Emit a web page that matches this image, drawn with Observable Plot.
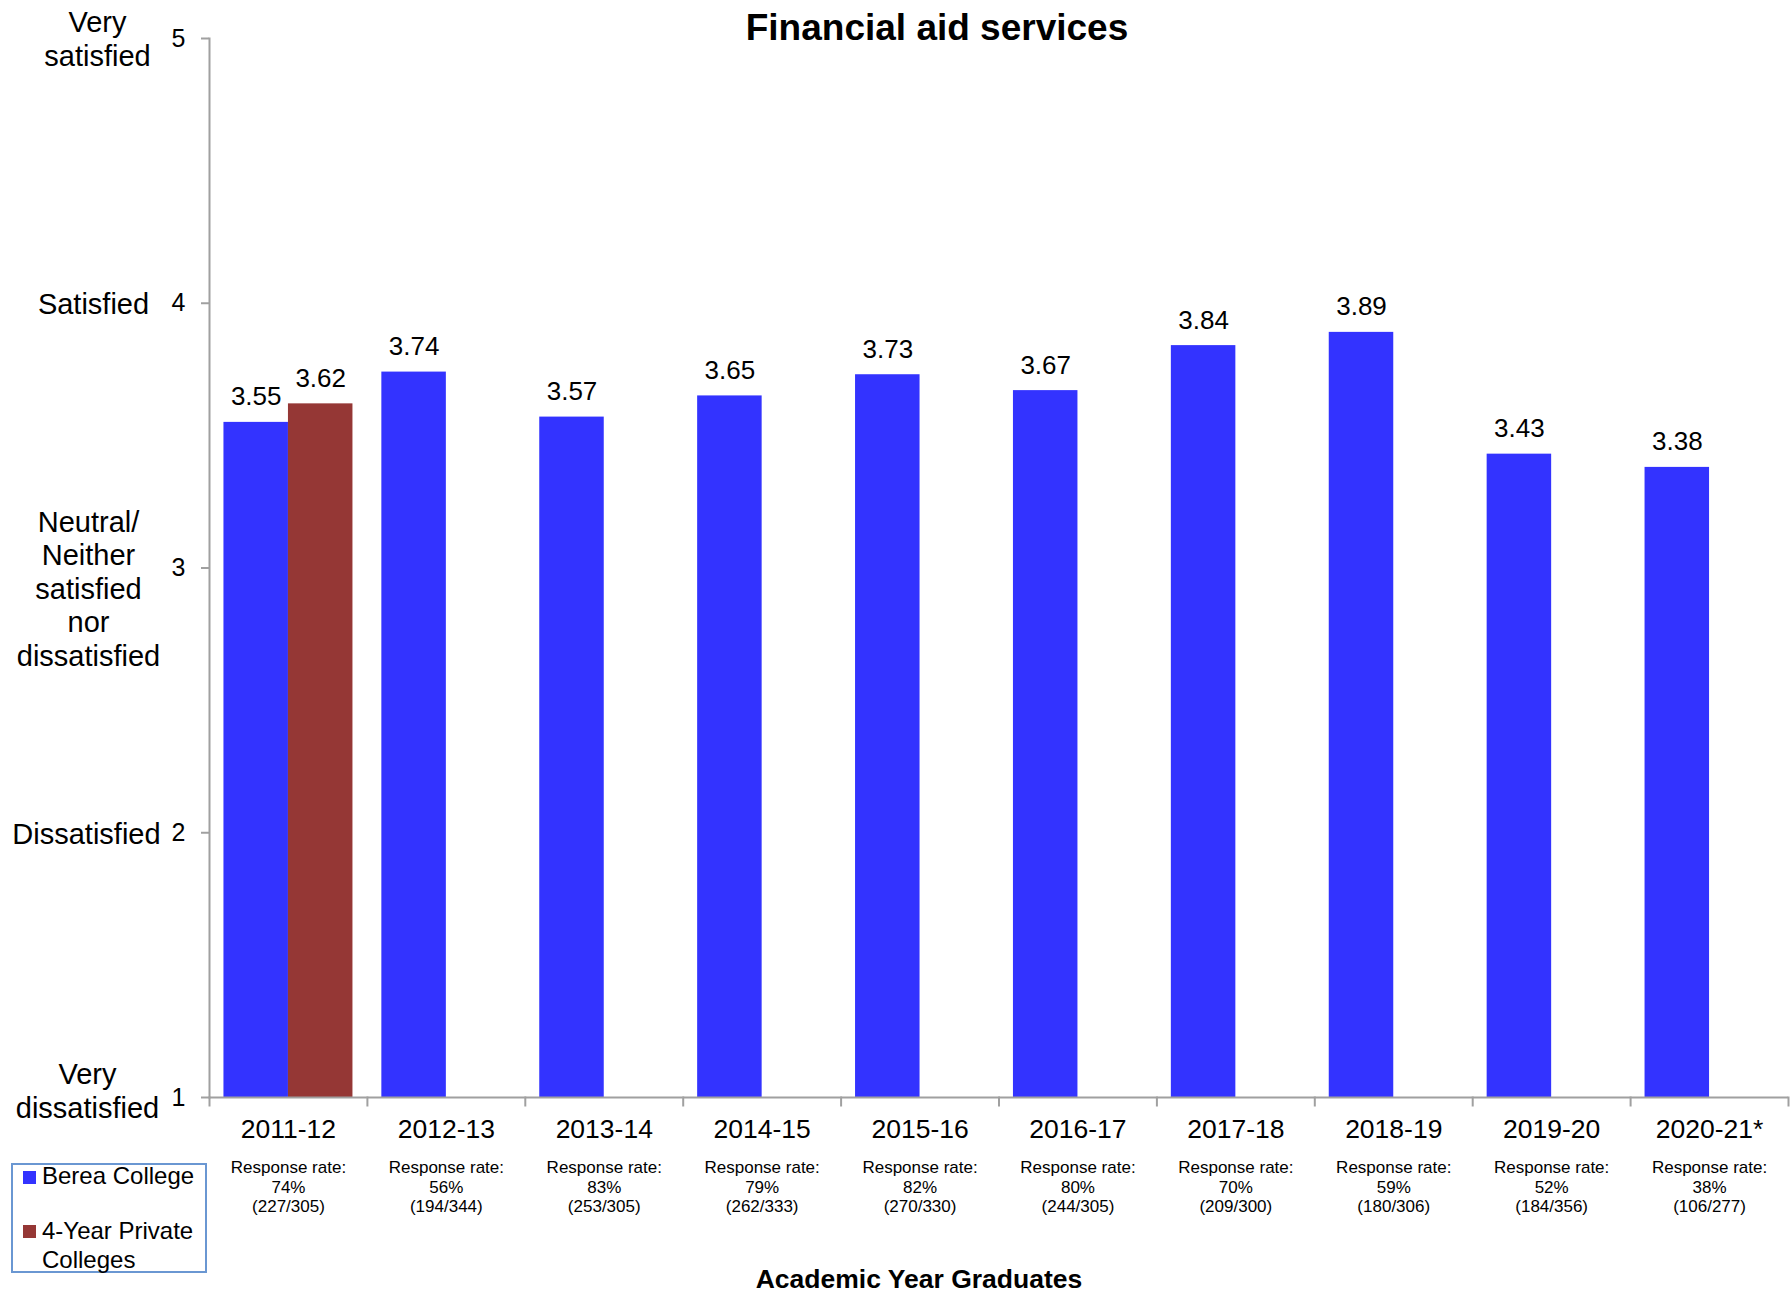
<!DOCTYPE html>
<html><head><meta charset="utf-8">
<script src="https://cdn.jsdelivr.net/npm/d3@7"></script>
<script src="https://cdn.jsdelivr.net/npm/@observablehq/plot@0.6"></script>
<style>
body{margin:0;background:#fff;font-family:"Liberation Sans",Arial,sans-serif;}
#wrap{position:relative;width:1790px;height:1296px;overflow:hidden;background:#fff}
#chart{position:absolute;left:0;top:0}
.abs{position:absolute;white-space:nowrap;color:#000}
#legend{position:absolute;left:11px;top:1163px;width:196px;height:110px;box-sizing:border-box;border:2px solid #6a97d2;background:#fff}
.sw{position:absolute;width:13px;height:13px}
.lt{position:absolute;font-size:24px;line-height:29px;width:163px;white-space:normal;color:#000}
</style></head><body>
<div id="wrap">
  <div id="chart"></div>
  <div class="abs" style="left:937px;top:9px;transform:translateX(-50%);font-size:37px;font-weight:bold;line-height:37px">Financial aid services</div>
  <div class="abs" style="left:919px;top:1268px;transform:translateX(-50%);font-size:26.5px;font-weight:bold;line-height:23px">Academic Year Graduates</div>
  <div id="legend"></div>
</div>
<script>
// ---- data ----
const years = ["2011-12","2012-13","2013-14","2014-15","2015-16","2016-17","2017-18","2018-19","2019-20","2020-21*"];
const bereaScores = [3.55, 3.74, 3.57, 3.65, 3.73, 3.67, 3.84, 3.89, 3.43, 3.38];
const privateScores = [3.62, null, null, null, null, null, null, null, null, null];
const responseRates = [74, 56, 83, 79, 82, 80, 70, 59, 52, 38];
const respondents = [227, 194, 253, 262, 270, 244, 209, 180, 184, 106];
const graduates = [305, 344, 305, 333, 330, 305, 300, 306, 356, 277];
const seriesNames = ["Berea College", "4-Year Private Colleges"];
const seriesColors = ["#3333FF", "#953735"];
const scaleTicks = [1, 2, 3, 4, 5];
const scaleLabels = ["Very\ndissatisfied", "Dissatisfied", "Neutral/\nNeither\nsatisfied\nnor\ndissatisfied", "Satisfied", "Very\nsatisfied"];

// ---- tables built from the arrays ----
const bars = [];
years.forEach((y, i) => {
  bars.push({year: y, series: seriesNames[0], value: bereaScores[i]});
  if (privateScores[i] != null) bars.push({year: y, series: seriesNames[1], value: privateScores[i]});
});
const rates = years.map((y, i) => ({year: y, text: `Response rate:\n${responseRates[i]}%\n(${respondents[i]}/${graduates[i]})`}));
const labelText = new Map(scaleTicks.map((t, i) => [t, scaleLabels[i]]));
const yMin = scaleTicks[0], yMax = scaleTicks[scaleTicks.length - 1];

const W = 1790, H = 1296, mT = 38, mB = 199, mL = 209, mR = 2;
const plotH = H - mT - mB;
const gray = "#a0a0a0";
const labelNudge = {1: -7, 3: 20};
const labelShift = {1: 3, 2: 2, 3: 4, 4: 9, 5: 13};

const labelAxes = scaleTicks.map(t => Plot.axisY([t], {
  anchor: "left", tickSize: 0, tickPadding: 125, textAnchor: "middle", label: null,
  tickFormat: d => labelText.get(d), fontSize: 29, lineHeight: 1.16,
  dy: labelNudge[t] || 0, dx: labelShift[t] || 0
}));

const chart = Plot.plot({
  width: W, height: H,
  marginTop: mT, marginBottom: mB, marginLeft: mL, marginRight: mR,
  style: {fontFamily: '"Liberation Sans", Arial, sans-serif', color: "#000", background: "#fff"},
  fx: {domain: years, padding: 0, round: false, label: null, axis: null},
  x: {domain: seriesNames, paddingInner: 0, paddingOuter: 0.224, round: false, axis: null},
  y: {domain: [yMin, yMax], axis: null},
  color: {domain: seriesNames, range: seriesColors},
  marks: [
    Plot.barY(bars, {fx: "year", x: "series", y1: () => yMin, y2: "value", fill: "series"}),
    Plot.text(bars, {fx: "year", x: "series", y: "value", text: d => d.value.toFixed(2),
      lineAnchor: "bottom", dy: -17, fontSize: 26, fill: "#000"}),
    Plot.ruleY([yMin], {stroke: gray, strokeWidth: 2}),
    Plot.frame({anchor: "left", stroke: gray, strokeWidth: 2, insetTop: plotH, insetBottom: -8}),
    Plot.frame({anchor: "right", stroke: gray, strokeWidth: 2, insetTop: plotH, insetBottom: -8, facetAnchor: "right"}),
    Plot.frame({anchor: "left", stroke: gray, strokeWidth: 2, facetAnchor: "left"}),
    Plot.axisY(scaleTicks, {anchor: "left", tickSize: 8, tickFormat: () => "", label: null, stroke: gray, strokeWidth: 2}),
    Plot.axisY(scaleTicks, {anchor: "left", tickSize: 0, tickPadding: 24, fontSize: 25, label: null, tickFormat: d => String(d), fill: "#000"}),
    ...labelAxes,
    Plot.axisFx({anchor: "bottom", tickSize: 0, tickPadding: 22, fontSize: 26.5, label: null, fill: "#000"}),
    Plot.text(rates, {fx: "year", frameAnchor: "bottom", text: "text", lineAnchor: "top",
      dy: 62, fontSize: 17, lineHeight: 1.14, fill: "#000"})
  ]
});
document.getElementById("chart").append(chart);

// legend built from series arrays
const legend = document.getElementById("legend");
const itemTops = [[1171 - 1163, 1161 - 1163], [1225 - 1163, 1216 - 1163]];
seriesNames.forEach((name, i) => {
  const sw = document.createElement("div");
  sw.className = "sw";
  sw.style.left = (23 - 13) + "px";
  sw.style.top = (itemTops[i][0] - 2) + "px";
  sw.style.background = seriesColors[i];
  legend.append(sw);
  const t = document.createElement("div");
  t.className = "lt";
  t.style.left = (42 - 13) + "px";
  t.style.top = (itemTops[i][1] - 2) + "px";
  t.textContent = name;
  legend.append(t);
});
</script>
</body></html>
